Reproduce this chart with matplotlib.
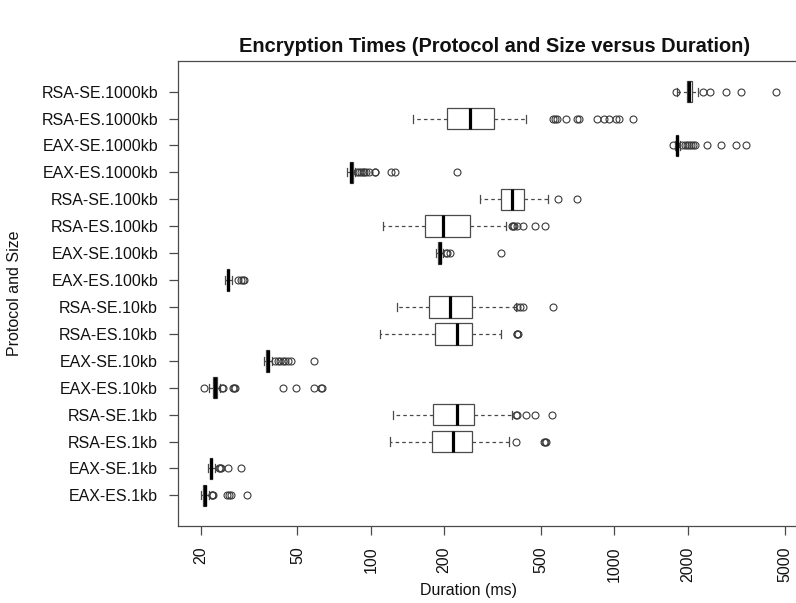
import matplotlib
matplotlib.use("Agg")
import matplotlib.pyplot as plt
import numpy as np

plt.rcParams['font.family'] = ['Liberation Sans', 'DejaVu Sans']
plt.rcParams['lines.scale_dashes'] = False

# Groups, listed bottom to top
labels = [
    "EAX-ES.1kb", "EAX-SE.1kb", "RSA-ES.1kb", "RSA-SE.1kb",
    "EAX-ES.10kb", "EAX-SE.10kb", "RSA-ES.10kb", "RSA-SE.10kb",
    "EAX-ES.100kb", "EAX-SE.100kb", "RSA-ES.100kb", "RSA-SE.100kb",
    "EAX-ES.1000kb", "EAX-SE.1000kb", "RSA-ES.1000kb", "RSA-SE.1000kb",
]

# Five-number summaries (ms): lower whisker, Q1, median, Q3, upper whisker
whisker_lo = [20.0, 21.4, 119.4, 123.1, 21.6, 36.6, 109.6, 128.4,
              25.1, 186.0, 112.1, 280.4, 80.0, 1770, 148.8, 1815]
q1 = [20.5, 21.9, 177.6, 179.8, 22.6, 37.3, 183.2, 173.1,
      25.6, 188.5, 166.2, 344.0, 82.0, 1795, 204.6, 1991]
median = [20.8, 22.1, 217.9, 226.3, 23.0, 37.8, 226.3, 211.1,
          25.95, 191.5, 198.3, 380.6, 83.1, 1811, 255.0, 2021]
q3 = [21.1, 22.4, 260.8, 264.8, 23.3, 38.3, 260.8, 260.8,
      26.3, 194.0, 254.3, 425.0, 84.5, 1830, 320.0, 2087]
whisker_hi = [21.6, 23.0, 368.7, 380.7, 24.0, 39.2, 340.9, 392.8,
              27.0, 198.0, 357.4, 535.0, 86.5, 1860, 432.0, 2200]

# Outlying observations (ms)
outliers = [
    [22.2, 22.4, 22.6, 25.6, 26.2, 26.8, 31.0],
    [23.8, 24.0, 24.2, 25.9, 29.3],
    [392.8, 515.0, 518.0, 522.0],
    [393.0, 397.0, 431.7, 470.0, 552.0],
    [20.6, 24.5, 24.7, 27.2, 27.5, 27.8, 43.5, 49.3, 58.5, 62.3, 63.0],
    [40.3, 41.5, 42.5, 43.5, 44.6, 45.8, 47.0, 58.4],
    [397.0, 399.0, 401.0],
    [400.0, 410.0, 422.0, 560.9],
    [28.6, 29.2, 29.8, 30.3],
    [204.0, 206.0, 212.0, 344.0],
    [380.0, 383.0, 387.0, 399.0, 422.5, 470.0, 516.8],
    [586.0, 704.0],
    [88.0, 89.5, 91.0, 92.5, 94.0, 96.0, 98.0, 103.6, 104.5, 121.3, 126.3, 226.3],
    [1740, 1900, 1940, 1980, 2020, 2060, 2100, 2140, 2389, 2727, 3142, 3453],
    [561, 568, 583, 634, 704, 714, 850, 905, 949, 1011, 1043, 1191],
    [1790, 2320, 2470, 2859, 3294, 4585],
]

x_ticks = [20, 50, 100, 200, 500, 1000, 2000, 5000]

stats = []
for i, lab in enumerate(labels):
    stats.append(dict(label=lab, whislo=whisker_lo[i], q1=q1[i], med=median[i],
                      q3=q3[i], whishi=whisker_hi[i], fliers=outliers[i]))

W, H = 796, 603
fig = plt.figure(figsize=(W / 100, H / 100), dpi=100)
left, right, top, bottom = 177.5, 798.5, 61.0, 526.0
ax = fig.add_axes([left / W, 1 - bottom / H, (right - left) / W, (bottom - top) / H])

edge = '#3a3a3a'
box_kw = dict(
    positions=np.arange(1, len(labels) + 1),
    widths=0.8,
    capwidths=0.3,
    patch_artist=True,
    boxprops=dict(facecolor='white', edgecolor='#4a4a4a', linewidth=0.9),
    medianprops=dict(color='black', linewidth=2.3, solid_capstyle='butt'),
    whiskerprops=dict(color='#4a4a4a', linewidth=0.9, linestyle=(0, (2.6, 2.2))),
    capprops=dict(color='#4a4a4a', linewidth=0.9),
    flierprops=dict(marker='o', markerfacecolor='none', markeredgecolor=edge,
                    markersize=5.0, markeredgewidth=0.8, linestyle='none'),
)
try:
    ax.bxp(stats, orientation='horizontal', **box_kw)
except TypeError:
    ax.bxp(stats, vert=False, **box_kw)

ax.set_xscale('log')
all_vals = np.concatenate([whisker_lo, whisker_hi] + [np.asarray(o, float) for o in outliers])
lo, hi = np.log10(all_vals.min()), np.log10(all_vals.max())
pad = 0.04 * (hi - lo)
ax.set_xlim(10 ** (lo - pad), 10 ** (hi + pad))
n = len(labels)
ax.set_ylim(0.5 - 0.04 * n, n + 0.5 + 0.04 * n)

ax.set_xticks(x_ticks)
ax.set_xticklabels([str(t) for t in x_ticks], rotation=90, fontsize=11.5, color='#111111')
ax.xaxis.set_minor_locator(matplotlib.ticker.NullLocator())
ax.set_yticks(np.arange(1, n + 1))
ax.set_yticklabels(labels, fontsize=11.5, color='#111111')
ax.tick_params(axis='both', direction='out', length=6.5, width=0.9, color='#4a4a4a')
ax.tick_params(axis='y', pad=7.5)
ax.tick_params(axis='x', pad=8)

for s in ax.spines.values():
    s.set_color('#4a4a4a')
    s.set_linewidth(0.9)

fig.text(494.5 / W, 1 - 47 / H, "Encryption Times (Protocol and Size versus Duration)",
         ha='center', va='center', fontsize=14.4, fontweight='bold', color='#111111')
fig.text(468 / W, 1 - 591 / H, "Duration (ms)", ha='center', va='center',
         fontsize=11.5, color='#111111')
fig.text(15 / W, 1 - 293 / H, "Protocol and Size", ha='center', va='center',
         rotation=90, fontsize=11.5, color='#111111')

fig.savefig("out.png", dpi=100)
